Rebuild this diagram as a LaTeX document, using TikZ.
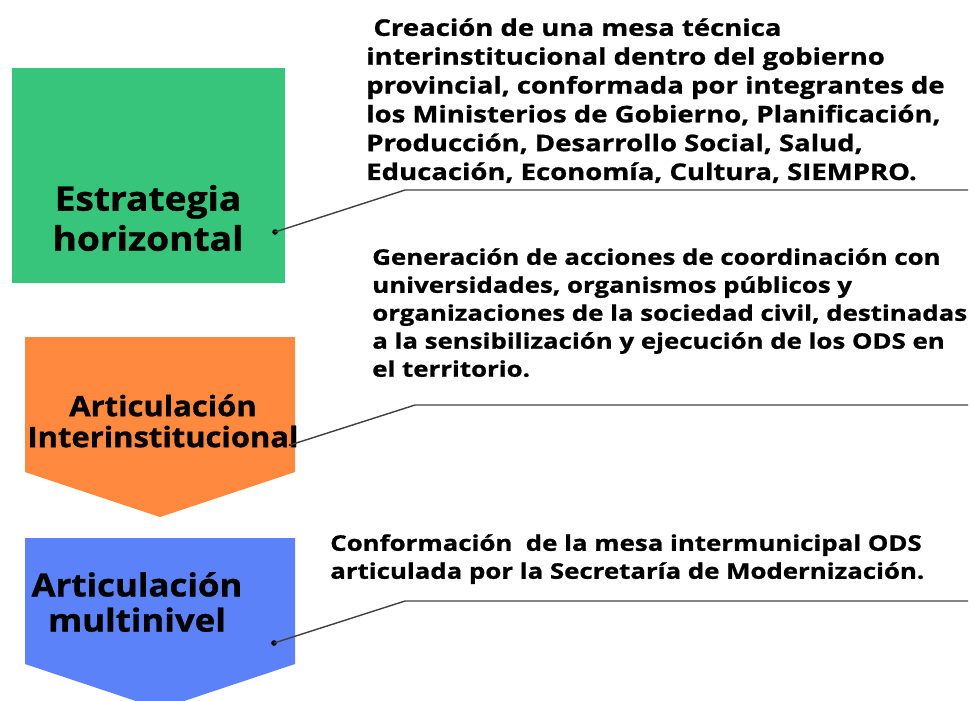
\documentclass[tikz,border=0pt]{standalone}
\usepackage{fontspec}
\setmainfont{Open Sans}[FakeStretch=1.1,BoldFont={* Bold},BoldFeatures={FakeBold=1}]
\newfontfamily\descfont{Open Sans}[FakeStretch=1.2,BoldFont={* Bold},BoldFeatures={FakeBold=1}]
\usepackage{xcolor}
\usetikzlibrary{shapes,positioning,calc}

\definecolor{estgreen}{HTML}{36C57A}
\definecolor{intorange}{HTML}{FF8A3F}
\definecolor{mulblue}{HTML}{5B82F8}

\tikzset{
  title/.style={align=center,font=\bfseries\fontsize{24}{28.5}\selectfont,inner sep=0pt},
  desc/.style={align=left,anchor=north west,font=\descfont\bfseries\fontsize{16.3}{20.5}\selectfont,inner sep=0pt},
  small desc/.style={desc,font=\descfont\bfseries\fontsize{15.3}{19.9}\selectfont},
  leader/.style={draw=black!75,line width=1pt},
  dot/.style={circle,fill=black,inner sep=0pt,minimum size=4pt}
}

\begin{document}
\begin{tikzpicture}[x=0.025cm,y=-0.025cm]
\useasboundingbox (0,0) rectangle (980,700);

% Strategy shapes
\fill[estgreen] (12,68) rectangle (285,283);
\fill[intorange] (25,337) -- (295,337) -- (295,472) -- (160,517) -- (25,472) -- cycle;
\fill[mulblue] (25,538) -- (295,538) -- (295,664) -- (160,709) -- (25,664) -- cycle;

\node[title] (est) at (148,218) {Estrategia\\horizontal};
\node[title,font=\bfseries\fontsize{20}{22}\selectfont] (inter) at (163,421) {Articulación\\Interinstitucional};
\node[title,font=\bfseries\fontsize{22.5}{25}\selectfont] (multi) at (137,602) {Articulación\\multinivel};

% Descriptions
\node[desc] (desc1) at (366,18) {\ Creación de una mesa técnica\\interinstitucional dentro del gobierno\\provincial, conformada por integrantes de\\los Ministerios de Gobierno, Planificación,\\Producción, Desarrollo Social, Salud,\\Educación, Economía, Cultura, SIEMPRO.};
\node[small desc] (desc2) at (372,248) {Generación de acciones de coordinación con\\universidades, organismos públicos y\\organizaciones de la sociedad civil, destinadas\\a la sensibilización y ejecución de los ODS en\\el territorio.};
\node[small desc] (desc3) at (330,534) {Conformación\ \ de la mesa intermunicipal ODS\\articulada por la Secretaría de Modernización.};

% Leaders
\node[dot] (p1) at (275,232) {};
\node[dot,minimum size=2pt] (p2) at (290,445) {};
\node[dot] (p3) at (274,643) {};
\coordinate (k1) at (405,190);
\coordinate (k2) at (415,405);
\coordinate (k3) at (405,601);
\coordinate (e1) at (968,190);
\coordinate (e2) at (968,405);
\coordinate (e3) at (968,601);

\draw[leader] (p1.center) -- (k1) -- (e1);
\draw[leader] (p2.center) -- (k2) -- (e2);
\draw[leader] (p3.center) -- (k3) -- (e3);
\end{tikzpicture}
\end{document}
